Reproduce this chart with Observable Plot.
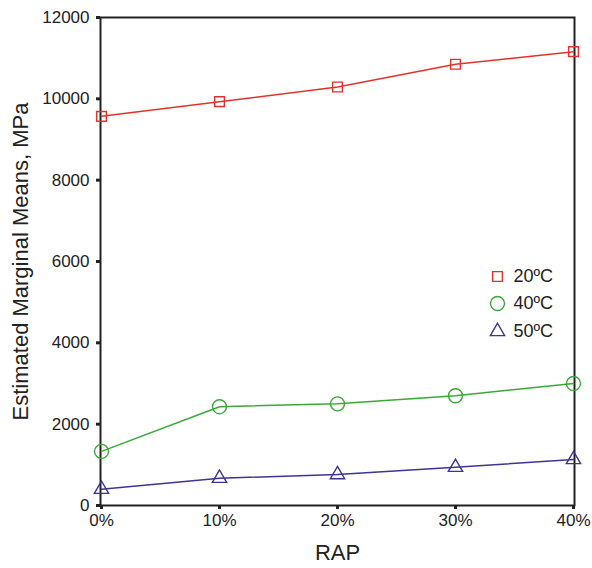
<!DOCTYPE html>
<html>
<head>
<meta charset="utf-8">
<script src="https://cdn.jsdelivr.net/npm/d3@7"></script>
<script src="https://cdn.jsdelivr.net/npm/@observablehq/plot@0.6"></script>
<style>
  html, body { margin: 0; padding: 0; background: #fff; }
  #chart svg { display: block; }
</style>
</head>
<body>
<div id="chart"></div>
<script>
const rap = ["0%", "10%", "20%", "30%", "40%"];
const series = ["20ºC", "40ºC", "50ºC"];
const temp20 = [9570, 9930, 10290, 10850, 11160];
const temp40 = [1330, 2430, 2500, 2700, 3000];
const temp50 = [400, 670, 760, 940, 1130];
const yTicks = [0, 2000, 4000, 6000, 8000, 10000, 12000];

const colors = ["#e2322b", "#3aa83a", "#3d3594"];
const symbols = ["square", "circle", "triangle"];
const sizes = [5.5, 7, 5.3];
const values = [temp20, temp40, temp50];

const data = series.flatMap((s, i) => rap.map((r, j) => ({series: s, rap: r, value: values[i][j]})));

const font = "'Liberation Sans', Arial, sans-serif";

const marks = [];
series.forEach((s, i) => {
  const d = data.filter(e => e.series === s);
  marks.push(Plot.line(d, {x: "rap", y: "value", stroke: colors[i], strokeWidth: 1.5}));
  marks.push(Plot.dot(d, {x: "rap", y: "value", stroke: colors[i], fill: "none", symbol: symbols[i], r: sizes[i], strokeWidth: 1.4}));
  // legend entries
  const legendDy = [15, 42, 70][i];
  marks.push(Plot.dot([s], {frameAnchor: "right", dx: -77, dy: legendDy, stroke: colors[i], fill: "none", symbol: symbols[i], r: sizes[i], strokeWidth: 1.4}));
  marks.push(Plot.text([s], {text: d => d, frameAnchor: "right", dx: -61, dy: legendDy, textAnchor: "start", fontSize: 18, fill: "#222"}));
});

const chart = Plot.plot({
  width: 592,
  height: 568,
  marginLeft: 100,
  marginRight: 18,
  marginTop: 17,
  marginBottom: 63,
  style: {fontFamily: font, background: "#fff", color: "#222"},
  x: {type: "point", domain: rap, padding: 0},
  y: {domain: [0, 12000]},
  marks: [
    Plot.frame({stroke: "#222", strokeWidth: 2}),
    Plot.axisY({ticks: yTicks, tickFormat: d => String(d), tickSize: 4, tickPadding: 7, strokeWidth: 3, fontSize: 17,
      label: "Estimated Marginal Means, MPa", labelAnchor: "center", labelArrow: "none", labelOffset: 88}),
    Plot.axisX({tickSize: 4, tickPadding: 4, strokeWidth: 3, fontSize: 17,
      label: "RAP", labelAnchor: "center", labelArrow: "none", labelOffset: 54}),
    ...marks
  ]
});

// enlarge axis titles
chart.querySelectorAll("g[aria-label='y-axis label'] text, g[aria-label='x-axis label'] text").forEach(t => t.setAttribute("font-size", 22));
document.getElementById("chart").appendChild(chart);
</script>
</body>
</html>
